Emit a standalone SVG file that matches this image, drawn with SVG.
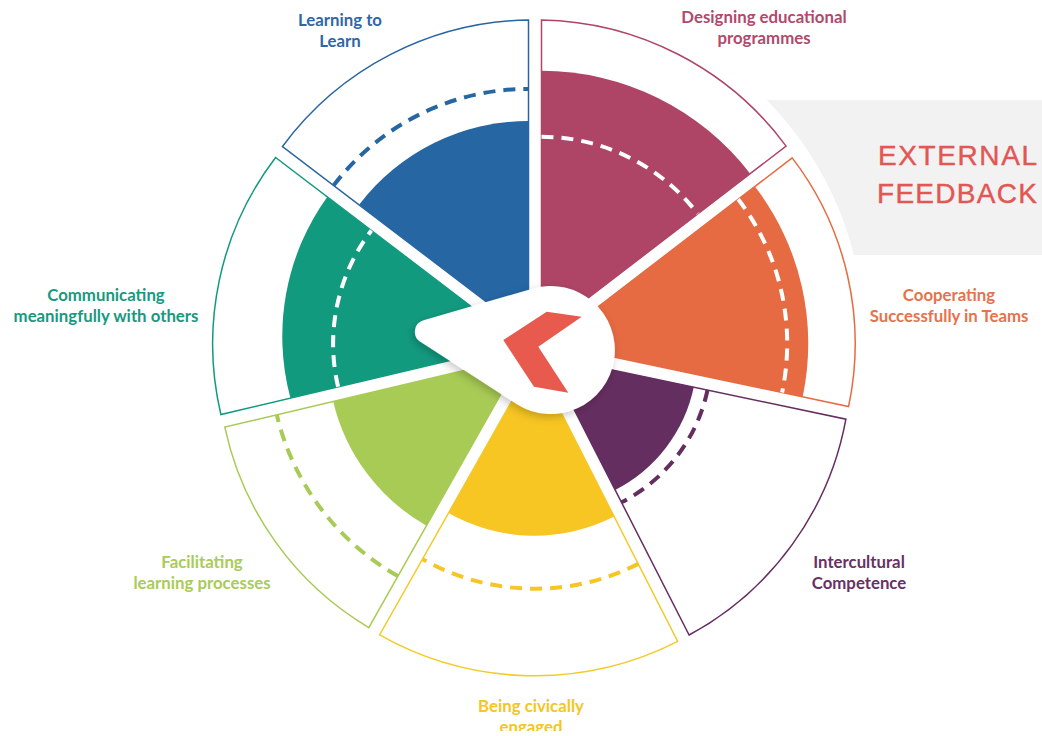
<svg xmlns="http://www.w3.org/2000/svg" width="1042" height="736" viewBox="0 0 1042 736">
<defs>
<style>
.lbl{font-family:Lato,"Liberation Sans",sans-serif;font-weight:700;font-size:16.8px;text-anchor:middle}
.ext{font-family:"Liberation Sans",Arial,sans-serif;font-weight:400;font-size:28px;fill:#E25653;stroke:#E25653;stroke-width:0.4}
.out{fill:#fff;stroke-width:1.5;stroke-linejoin:miter}
.dash{fill:none;stroke-width:4;stroke-dasharray:12 8}
.wd{stroke:#fff}
</style>
<filter id="sh" x="-30%" y="-30%" width="160%" height="160%">
<feDropShadow dx="-2" dy="3" stdDeviation="4" flood-color="#000" flood-opacity="0.22"/>
</filter>
<clipPath id="cut"><rect x="0" y="0" width="1042" height="731"/></clipPath>
</defs>
<rect width="1042" height="736" fill="#fff"/>
<g id="external-feedback">
<rect x="700" y="100" width="342" height="155" fill="#F2F2F2"/>
<circle cx="527" cy="337" r="337" fill="#fff"/>
<text class="ext" x="878" y="165" textLength="159">EXTERNAL</text>
<text class="ext" x="877" y="203" textLength="160">FEEDBACK</text>
</g>
<g id="learning-to-learn">
<path class="out" stroke="#2A65A3" d="M528.5 333.9 L282.5 146.5 A311.5 311.5 0 0 1 528.5 20 Z"/>
<path fill="#2566A3" d="M528.5 333.9 L359.1 204.8 A213 213 0 0 1 528.5 120.9 Z"/>
<path class="dash" stroke="#2566A3" d="M333.6 185.4 A245 245 0 0 1 528.5 88.9"/>
<text class="lbl" fill="#2F67A6" x="340" y="26">Learning to</text>
<text class="lbl" fill="#2F67A6" x="340" y="47">Learn</text>
</g>
<g id="designing-educational-programmes">
<path class="out" stroke="#AE4566" d="M541.5 333.8 L541.5 20 A311 311 0 0 1 786.1 146.1 Z"/>
<path fill="#AE4566" d="M541.5 333.8 L541.5 70.8 A263 263 0 0 1 750.2 173.7 Z"/>
<path class="dash wd" d="M541.5 136.8 A197 197 0 0 1 697.8 213.9"/>
<text class="lbl" fill="#B04A6C" x="764" y="23">Designing educational</text>
<text class="lbl" fill="#B04A6C" x="764" y="44">programmes</text>
</g>
<g id="cooperating-successfully-in-teams">
<path class="out" stroke="#E66A42" d="M550.2 343.6 L792.2 157.9 A305 305 0 0 1 848.6 406.5 Z"/>
<path fill="#E66A42" d="M550.2 343.6 L754.9 186.5 A258 258 0 0 1 802.7 396.8 Z"/>
<path class="dash wd" d="M738.2 199.3 A237 237 0 0 1 782.1 392.5"/>
<text class="lbl" fill="#E8714B" x="949" y="301">Cooperating</text>
<text class="lbl" fill="#E8714B" x="949" y="322">Successfully in Teams</text>
</g>
<g id="intercultural-competence">
<path class="out" stroke="#652E60" d="M547 356.2 L845.9 419.2 A309 309 0 0 1 689.1 635 Z"/>
<path fill="#652E60" d="M547 356.2 L693.8 387.1 A150 150 0 0 1 615.1 489.9 Z"/>
<path class="dash" stroke="#652E60" d="M707.5 390 A164 164 0 0 1 621.5 502.3"/>
<text class="lbl" fill="#6A2F63" x="859" y="568">Intercultural</text>
<text class="lbl" fill="#6A2F63" x="859" y="589">Competence</text>
</g>
<g id="being-civically-engaged">
<path class="out" stroke="#F2CB2B" d="M534.7 360.7 L677.7 641.4 A315 315 0 0 1 379.6 634.9 Z"/>
<path fill="#F7C623" d="M534.7 360.7 L614.2 516.6 A175 175 0 0 1 448.5 513 Z"/>
<path class="dash" stroke="#F7C623" d="M638.2 563.9 A228 228 0 0 1 422.4 559.1"/>
<g clip-path="url(#cut)">
<text class="lbl" fill="#F5C522" x="531" y="712">Being civically</text>
<text class="lbl" fill="#F5C522" x="531" y="733">engaged</text>
</g>
</g>
<g id="facilitating-learning-processes">
<path class="out" stroke="#A8CB55" d="M522 356.8 L368.8 627.6 A308 308 0 0 1 224.8 427.1 Z"/>
<path fill="#A8CB55" d="M522 356.8 L426.5 525.7 A194 194 0 0 1 333.2 401.4 Z"/>
<path class="dash" stroke="#A8CB55" d="M397.9 576.1 A252 252 0 0 1 276.8 414.8"/>
<text class="lbl" fill="#A9CB58" x="202" y="568">Facilitating</text>
<text class="lbl" fill="#A9CB58" x="202" y="589">learning processes</text>
</g>
<g id="communicating-meaningfully">
<path class="out" stroke="#129A7F" d="M520.1 343.8 L220.9 414.5 A307.4 307.4 0 0 1 275.6 157.5 Z"/>
<path fill="#129A7F" d="M520.1 343.8 L290.4 398.1 A239 239 0 0 1 327.2 196.9 Z"/>
<path class="dash wd" d="M338.1 386.8 A187 187 0 0 1 371.4 230.5"/>
<text class="lbl" fill="#17997F" x="106" y="301">Communicating</text>
<text class="lbl" fill="#17997F" x="106" y="322">meaningfully with others</text>
</g>
<g id="center">
<path fill="#fff" filter="url(#sh)" d="M533.2 288.5 A64 64 0 1 1 516.2 403.8 L420.4 341.8 A12 12 0 0 1 423.6 320.2 Z"/>
<polygon fill="#E8594E" points="546.7,311.7 581.7,316.7 538.3,346.7 568.3,392.7 534,386.7 503.3,340"/>
</g>
<g id="connectors"></g>
</svg>
